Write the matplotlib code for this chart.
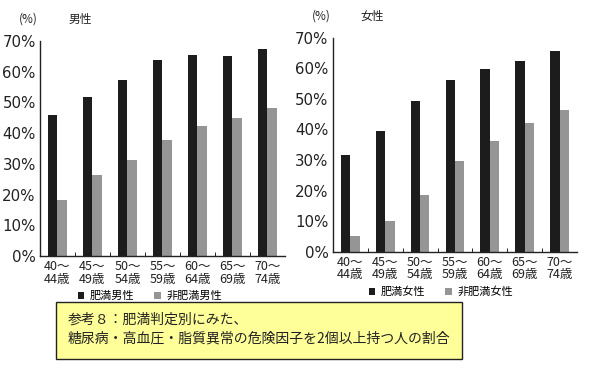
import matplotlib
matplotlib.use("Agg")
import matplotlib.pyplot as plt
from matplotlib.patches import Rectangle, Patch
import numpy as np

plt.rcParams["font.family"] = ["Noto Sans CJK JP", "DejaVu Sans"]

# 年齢階級
age_groups = ["40～\n44歳", "45～\n49歳", "50～\n54歳", "55～\n59歳",
              "60～\n64歳", "65～\n69歳", "70～\n74歳"]

# 男性 (%)
men_obese = [45.9, 51.9, 57.3, 63.7, 65.4, 65.1, 67.4]
men_nonobese = [18.2, 26.4, 31.3, 37.7, 42.3, 45.0, 48.1]

# 女性 (%)
women_obese = [31.6, 39.4, 49.3, 56.3, 59.9, 62.4, 65.6]
women_nonobese = [5.1, 10.0, 18.5, 29.7, 36.2, 42.0, 46.4]

BLACK = "#1c1c1c"
GRAY = "#959595"
INK = "#222222"

fig = plt.figure(figsize=(6.05, 3.69), dpi=100)
fig.set_facecolor("white")


def draw_panel(rect, obese, nonobese, title, labels, legend_xy):
    ax = fig.add_axes(rect)
    x = np.arange(len(obese))
    w = 0.27
    ax.bar(x - w / 2, obese, width=w, color=BLACK, edgecolor="none")
    ax.bar(x + w / 2, nonobese, width=w, color=GRAY, edgecolor="none")
    ax.set_xlim(-0.5, len(obese) - 0.5)
    ax.set_ylim(0, 70)
    ax.set_yticks(range(0, 71, 10))
    ax.set_yticklabels([f"{v}%" for v in range(0, 71, 10)], fontsize=10.8,
                       family=["DejaVu Sans"], color=INK)
    ax.set_xticks(x)
    ax.set_xticklabels(age_groups, fontsize=9, linespacing=0.95, color=INK)
    ax.set_xticks(np.arange(0.5, len(obese) - 0.5), minor=True)
    ax.tick_params(axis="x", which="major", length=0, pad=3)
    ax.tick_params(axis="x", which="minor", direction="in", length=3)
    ax.tick_params(axis="y", direction="in", length=0, pad=3)
    for s in ("top", "right"):
        ax.spines[s].set_visible(False)
    for s in ("left", "bottom"):
        ax.spines[s].set_color(INK)
        ax.spines[s].set_linewidth(1.0)
    ax.text(-0.085, 1.10, "(%)", transform=ax.transAxes, fontsize=8.5,
            ha="left", va="center", color=INK)
    ax.text(0.115, 1.10, title, transform=ax.transAxes, fontsize=8.5,
            ha="left", va="center", color=INK)
    handles = [Patch(facecolor=BLACK, label=labels[0]),
               Patch(facecolor=GRAY, label=labels[1])]
    fig.legend(handles=handles, loc="center",
               bbox_to_anchor=(legend_xy[0] / 605, 1 - legend_xy[1] / 369),
               ncol=2, frameon=False, fontsize=8, handlelength=0.6,
               handleheight=0.6, handletextpad=0.5, columnspacing=1.8,
               borderpad=0, borderaxespad=0)
    return ax


draw_panel([0.066, 0.306, 0.405, 0.583], men_obese, men_nonobese,
           "男性", ["肥満男性", "非肥満男性"], (150, 296))
draw_panel([0.550, 0.318, 0.404, 0.580], women_obese, women_nonobese,
           "女性", ["肥満女性", "非肥満女性"], (441, 292))

# 説明ボックス
box = Rectangle((56 / 605, 1 - 359 / 369), 406 / 605, 57 / 369,
                transform=fig.transFigure, facecolor="#ffff99",
                edgecolor=INK, linewidth=1.0, zorder=5)
fig.patches.append(box)
fig.text(68 / 605, 1 - 320 / 369, "参考８：肥満判定別にみた、",
         fontsize=10, ha="left", va="center", color=INK, zorder=6)
fig.text(68 / 605, 1 - 338 / 369,
         "糖尿病・高血圧・脂質異常の危険因子を2個以上持つ人の割合",
         fontsize=10, ha="left", va="center", color=INK, zorder=6)

fig.savefig("out.png", dpi=100, facecolor="white")
